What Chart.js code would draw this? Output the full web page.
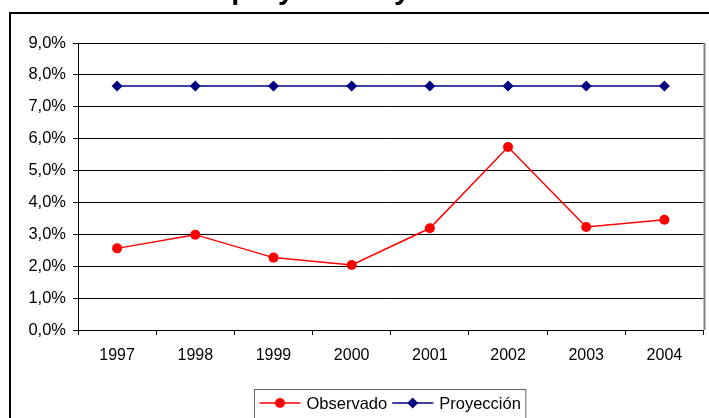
<!DOCTYPE html>
<html>
<head>
<meta charset="utf-8">
<script src="https://cdn.jsdelivr.net/npm/chart.js@4/dist/chart.umd.min.js"></script>
<style>
  html, body { margin: 0; padding: 0; background: #fff; }
  #wrap { width: 709px; height: 418px; overflow: hidden; }
  canvas { display: block; }
</style>
</head>
<body>
<div id="wrap"><canvas id="c" width="709" height="418"></canvas></div>
<script>
// Years on the category axis
const years = ['1997', '1998', '1999', '2000', '2001', '2002', '2003', '2004'];
// Observed rate, in percent
const observado = [2.56, 2.99, 2.27, 2.04, 3.19, 5.74, 3.23, 3.46];
// Projected rate, in percent
const proyeccion = [7.65, 7.65, 7.65, 7.65, 7.65, 7.65, 7.65, 7.65];
// Series names
const seriesNames = ['Observado', 'Proyección'];
// Chart heading
const titleText = 'Inflación proyectada y observada';

const FONT = 'Liberation Sans, Arial, sans-serif';

// Frame, heading, right plot edge and the boxed legend
const decorations = {
  id: 'decorations',
  beforeDraw(chart) {
    const ctx = chart.ctx;
    ctx.save();
    ctx.fillStyle = '#fff';
    ctx.fillRect(0, 0, chart.width, chart.height);
    ctx.restore();
  },
  beforeDatasetsDraw(chart) {
    const ctx = chart.ctx;
    const a = chart.chartArea;
    ctx.save();
    ctx.strokeStyle = '#808080';
    ctx.lineWidth = 2;
    ctx.beginPath();
    ctx.moveTo(Math.round(a.right) + 0.5, a.top);
    ctx.lineTo(Math.round(a.right) + 0.5, a.bottom);
    ctx.stroke();
    ctx.restore();
  },
  afterDraw(chart) {
    const ctx = chart.ctx;
    ctx.save();
    // outer frame
    ctx.strokeStyle = '#000';
    ctx.lineWidth = 2;
    ctx.strokeRect(10, 13, 900, 600);
    // heading
    ctx.fillStyle = '#000';
    ctx.font = 'bold 29px ' + FONT;
    ctx.textBaseline = 'alphabetic';
    ctx.textAlign = 'left';
    ctx.fillText(titleText, 104, -1);

    // legend
    ctx.font = '16.5px ' + FONT;
    const boxX = 254.5, boxY = 389.5;
    const lineLen = 41, gapAfterLine = 6, gapAfterText = 5;
    let x = boxX + 5;
    const cy = 403;
    const items = chart.data.datasets.map(d => ({
      label: d.label, color: d.borderColor, style: d.pointStyle, r: d.pointRadius
    }));
    items.forEach(it => {
      ctx.strokeStyle = it.color;
      ctx.lineWidth = 1.5;
      ctx.beginPath();
      ctx.moveTo(x, cy);
      ctx.lineTo(x + lineLen, cy);
      ctx.stroke();
      ctx.fillStyle = it.color;
      Chart.helpers.drawPoint(ctx, { pointStyle: it.style, radius: it.r, borderWidth: 0 }, x + lineLen / 2, cy);
      ctx.fillStyle = '#000';
      ctx.textBaseline = 'middle';
      ctx.fillText(it.label, x + lineLen + gapAfterLine, cy + 1);
      x += lineLen + gapAfterLine + ctx.measureText(it.label).width + gapAfterText;
    });
    ctx.strokeStyle = '#606060';
    ctx.lineWidth = 1;
    ctx.strokeRect(boxX, boxY, x - boxX, 60);
    ctx.restore();
  }
};

new Chart(document.getElementById('c'), {
  type: 'line',
  data: {
    labels: years,
    datasets: [
      {
        label: seriesNames[0],
        data: observado,
        borderColor: '#ff0000',
        backgroundColor: '#ff0000',
        borderWidth: 1.5,
        pointStyle: 'circle',
        pointRadius: 5,
        pointBorderWidth: 0,
        tension: 0
      },
      {
        label: seriesNames[1],
        data: proyeccion,
        borderColor: '#000080',
        backgroundColor: '#000080',
        borderWidth: 1.5,
        pointStyle: 'rectRot',
        pointRadius: 5.5,
        pointBorderWidth: 0,
        tension: 0
      }
    ]
  },
  options: {
    responsive: false,
    animation: false,
    layout: { padding: { top: 43, right: 3, left: 0, bottom: 0 } },
    plugins: { legend: { display: false }, title: { display: false }, tooltip: { enabled: false } },
    scales: {
      x: {
        offset: true,
        grid: { offset: true, drawOnChartArea: false, drawTicks: true, tickLength: 5, color: '#000' },
        border: { color: '#000', width: 1 },
        ticks: { color: '#000', font: { family: FONT, size: 16 }, padding: 11, maxRotation: 0 },
        afterFit(s) { s.height = 88; }
      },
      y: {
        min: 0,
        max: 9,
        grid: { color: '#000', tickLength: 5 },
        border: { color: '#000', width: 1 },
        ticks: {
          stepSize: 1,
          color: '#000',
          font: { family: FONT, size: 16.5 },
          padding: 7,
          callback: v => v.toFixed(1).replace('.', ',') + '%'
        },
        afterFit(s) { s.width = 78; }
      }
    }
  },
  plugins: [decorations]
});
</script>
</body>
</html>
